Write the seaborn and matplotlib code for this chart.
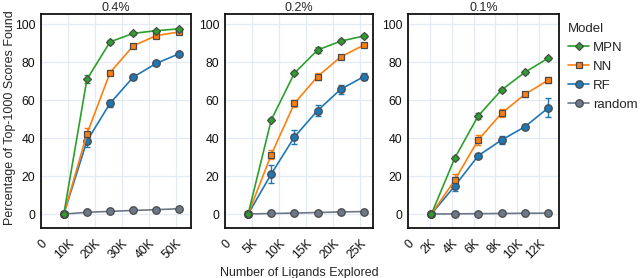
import numpy as np
import pandas as pd
import matplotlib
matplotlib.use("Agg")
import matplotlib.pyplot as plt
import seaborn as sns
from matplotlib.lines import Line2D

sns.set_style("white")
plt.rcParams['font.family'] = ['Liberation Sans', 'DejaVu Sans']

# ---- data ----
models = ["MPN", "NN", "RF", "random"]
panels = ["0.4%", "0.2%", "0.1%"]
steps = [8.566, 4.283, 2.1415]          # thousands of ligands per batch
n_batches = 6

# y values (percentage of top-1000 scores found) per panel, per model
vals = {
    "0.4%": {
        "MPN":    [0, 71.0, 90.7, 95.2, 96.6, 97.6],
        "NN":     [0, 42.2, 74.5, 88.6, 94.0, 96.0],
        "RF":     [0, 38.5, 58.3, 72.1, 79.4, 84.5],
        "random": [0, 0.9, 1.4, 1.9, 2.3, 2.8],
    },
    "0.2%": {
        "MPN":    [0, 49.6, 74.2, 86.4, 91.1, 93.8],
        "NN":     [0, 31.3, 58.3, 72.4, 82.8, 89.0],
        "RF":     [0, 21.1, 40.6, 54.5, 65.7, 72.4],
        "random": [0, 0.3, 0.5, 0.8, 1.1, 1.3],
    },
    "0.1%": {
        "MPN":    [0, 29.5, 51.7, 65.4, 74.7, 82.2],
        "NN":     [0, 17.9, 39.0, 53.1, 63.1, 70.6],
        "RF":     [0, 14.8, 30.7, 39.0, 46.0, 56.0],
        "random": [0, 0.1, 0.2, 0.3, 0.4, 0.5],
    },
}
errs = {
    "0.4%": {
        "MPN":    [0, 2.0, 1.0, 0.8, 0.6, 0.5],
        "NN":     [0, 3.0, 1.2, 0.8, 0.6, 0.5],
        "RF":     [0, 3.0, 2.0, 1.2, 1.0, 0.6],
        "random": [0, 0.2, 0.2, 0.2, 0.2, 0.2],
    },
    "0.2%": {
        "MPN":    [0, 0.8, 1.0, 1.5, 1.0, 0.8],
        "NN":     [0, 2.5, 2.0, 2.0, 1.0, 0.6],
        "RF":     [0, 5.0, 3.5, 3.0, 2.5, 2.0],
        "random": [0, 0.1, 0.1, 0.1, 0.1, 0.1],
    },
    "0.1%": {
        "MPN":    [0, 1.0, 1.5, 1.0, 0.8, 0.8],
        "NN":     [0, 3.0, 2.5, 2.0, 1.2, 1.5],
        "RF":     [0, 2.5, 1.0, 2.0, 1.2, 5.0],
        "random": [0, 0.1, 0.1, 0.1, 0.1, 0.1],
    },
}
xticks = {
    "0.4%": [0, 10000, 20000, 30000, 40000, 50000],
    "0.2%": [0, 5000, 10000, 15000, 20000, 25000],
    "0.1%": [0, 2000, 4000, 6000, 8000, 10000, 12000],
}
xticklabels = {
    "0.4%": ["0", "10K", "20K", "30K", "40K", "50K"],
    "0.2%": ["0", "5K", "10K", "15K", "20K", "25K"],
    "0.1%": ["0", "2K", "4K", "6K", "8K", "10K", "12K"],
}
xmax = {"0.4%": 55700, "0.2%": 27350, "0.1%": 13850}

# ---- style ----
palette = {"MPN": "#2ca02c", "NN": "#ff7f0e", "RF": "#1f77b4", "random": "#6c7888"}
markers = {"MPN": "D", "NN": "s", "RF": "o", "random": "o"}
msize = {"MPN": 4.4, "NN": 5.0, "RF": 5.4, "random": 5.4}
draw_order = ["random", "RF", "NN", "MPN"]
edge = "#4a4a4a"

rows = []
for p, st in zip(panels, steps):
    for m in models:
        for i in range(n_batches):
            rows.append({"panel": p, "Model": m, "x": (i + 1) * st * 1000,
                         "y": vals[p][m][i], "err": errs[p][m][i]})
df = pd.DataFrame(rows)

fig = plt.figure(figsize=(6.4, 2.78), dpi=100)
W, H = 640.0, 278.0
top, bottom = 14.0, 227.7
lefts = [40.7, 225.0, 408.0]
rights = [191.0, 372.7, 559.3]

for k, p in enumerate(panels):
    ax = fig.add_axes([lefts[k] / W, (H - bottom) / H,
                       (rights[k] - lefts[k]) / W, (bottom - top) / H])
    sub = df[df.panel == p]
    for m in draw_order:
        d = sub[sub.Model == m]
        ax.errorbar(d["x"], d["y"], yerr=d["err"], fmt="none",
                    ecolor=palette[m], elinewidth=1.0, capsize=2.2,
                    capthick=1.0, zorder=2)
        sns.lineplot(data=d, x="x", y="y", ax=ax, color=palette[m],
                     marker=markers[m], markersize=msize[m],
                     markeredgecolor=edge, markeredgewidth=0.9,
                     linewidth=1.2, legend=False, zorder=3)
    ax.set_xlim(0, xmax[p])
    ax.set_ylim(-7.2, 105.4)
    ax.set_yticks([0, 20, 40, 60, 80, 100])
    ax.set_xticks(xticks[p])
    ax.set_xticklabels(xticklabels[p], rotation=45, ha="right",
                       rotation_mode="anchor")
    ax.tick_params(axis="both", length=0, labelsize=8.8, colors="#111111")
    ax.tick_params(axis="y", pad=4)
    ax.tick_params(axis="x", pad=7)
    ax.grid(True, color="#e3eaf5", linewidth=0.9)
    ax.set_axisbelow(True)
    for s in ax.spines.values():
        s.set_color("#111111")
        s.set_linewidth(1.3)
    ax.set_title(p, fontsize=9, pad=2)
    ax.set_ylabel("")
    ax.set_xlabel("Number of Ligands Explored" if k == 1 else "",
                  fontsize=9, labelpad=4)

fig.text(10 / W, 1 - 118 / H, "Percentage of Top-1000 Scores Found",
         rotation=90, ha="center", va="center", fontsize=9)

handles = [Line2D([], [], color=palette[m], marker=markers[m],
                  markersize=msize[m], markeredgecolor=edge,
                  markeredgewidth=0.9, linewidth=1.2) for m in models]
leg = fig.legend(handles, models, title="Model", loc="upper left",
                 bbox_to_anchor=(563 / W, 1 - 18 / H), frameon=False,
                 fontsize=9.5, title_fontsize=9.5, handlelength=1.6,
                 handletextpad=0.3, labelspacing=0.5, borderaxespad=0)
leg._legend_box.align = "left"

fig.savefig("out.png", dpi=100)
